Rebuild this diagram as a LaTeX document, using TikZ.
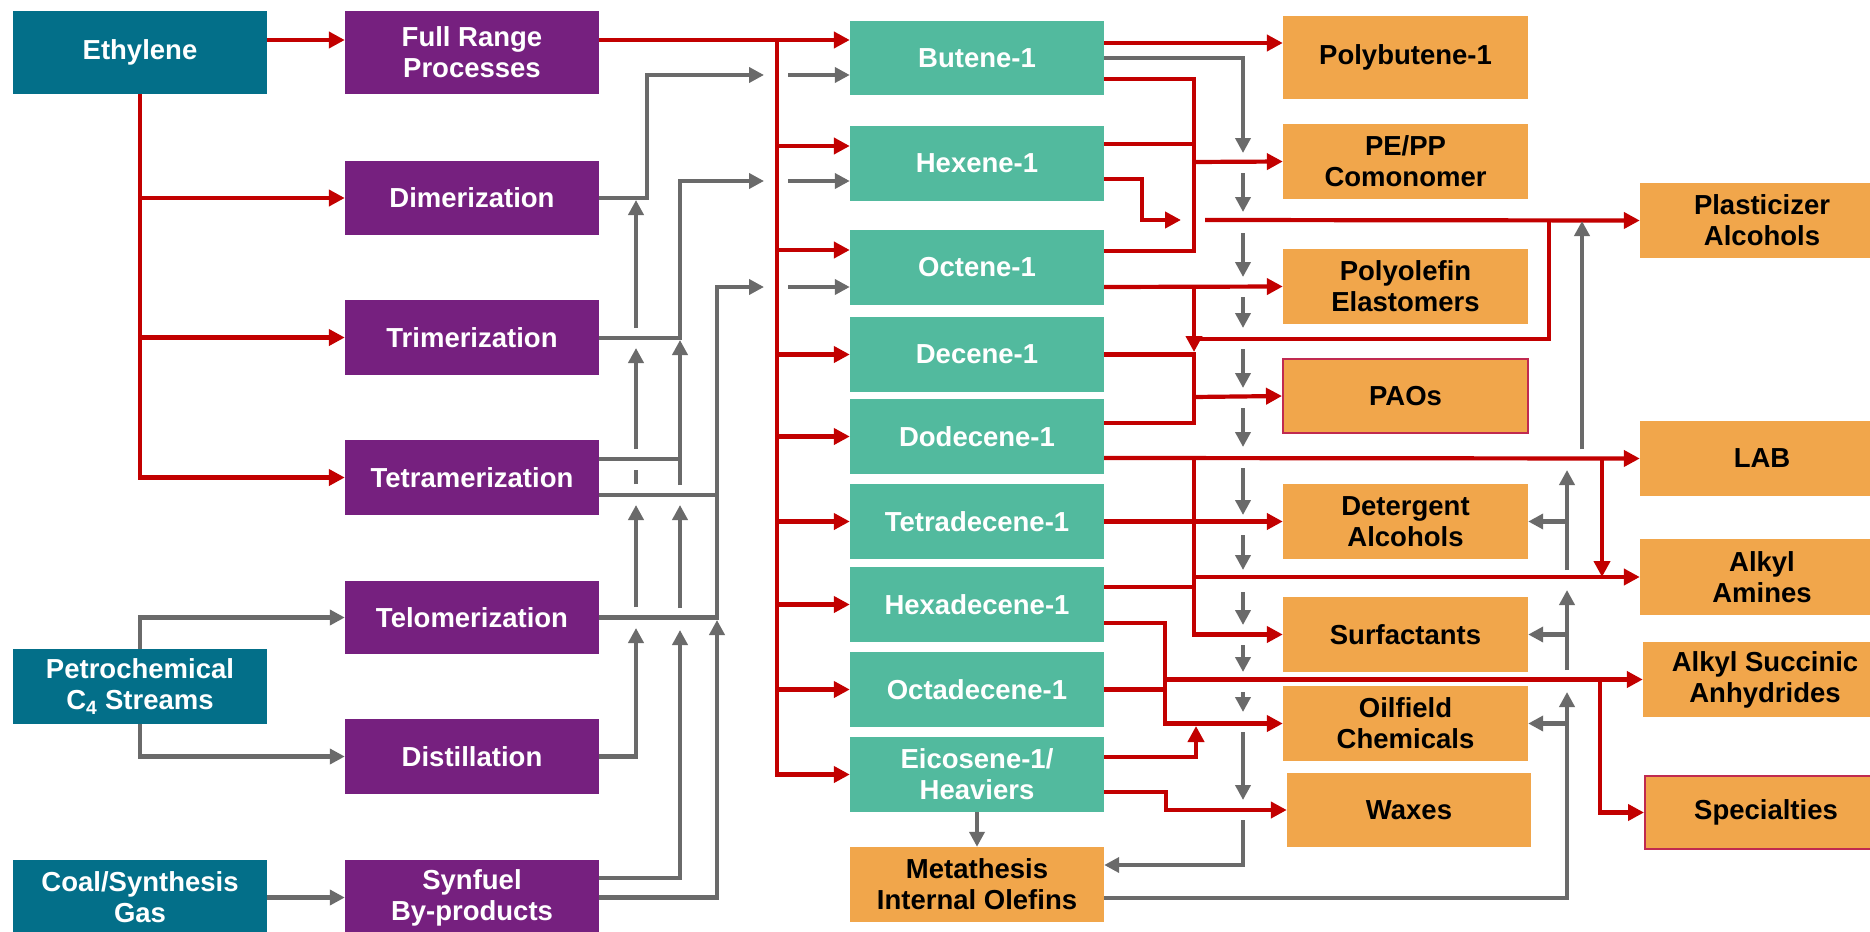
\documentclass[tikz,border=0pt]{standalone}
\usepackage{fontspec}
\setmainfont{Liberation Sans}
\usetikzlibrary{arrows.meta}
\definecolor{srcc}{HTML}{036F89}
\definecolor{procc}{HTML}{76207F}
\definecolor{olec}{HTML}{52BA9E}
\definecolor{prodc}{HTML}{F1A64B}
\definecolor{redc}{HTML}{C20000}
\definecolor{grayc}{HTML}{6A6A6A}
\definecolor{pinkc}{HTML}{C02A50}
\begin{document}
\begin{tikzpicture}[x=1pt,y=-1pt,
  box/.style={rectangle, inner sep=0pt, align=center, minimum height=75pt,
    font=\bfseries\fontsize{27.5}{31}\selectfont},
  srcbox/.style={box, fill=srcc, text=white, minimum width=254pt},
  procbox/.style={box, fill=procc, text=white, minimum width=254pt},
  olebox/.style={box, fill=olec, text=white, minimum width=254pt},
  prodbox/.style={box, fill=prodc, text=black, minimum width=245pt},
  farbox/.style={box, fill=prodc, text=black, minimum width=244pt},
  pinkedge/.style={draw=pinkc, line width=2pt},
  rl/.style={draw=redc, line width=4.2pt},
  ra/.style={rl, -{Triangle[length=16pt,width=16pt]}},
  gl/.style={draw=grayc, line width=4.2pt},
  ga/.style={gl, -{Triangle[length=15pt,width=15pt]}}]
\useasboundingbox[fill=white] (0,0) rectangle (1870,931);

% sources
\node[srcbox, minimum height=83pt] (eth) at (140,52.5) {\raisebox{-3pt}{Ethylene}};
\node[srcbox] (pc) at (140,686.5) {Petrochemical\\C\textsubscript{4} Streams};
\node[srcbox] (coal) at (140,897.5) {Coal/Synthesis\\Gas};

% processes
\node[procbox, minimum height=83pt] (fr) at (472,52.5) {Full Range\\Processes};
\node[procbox, minimum height=74pt] (dim) at (472,198) {Dimerization};
\node[procbox] (tri) at (472,337.5) {Trimerization};
\node[procbox] (tet) at (472,477.5) {Tetramerization};
\node[procbox, minimum height=73pt] (tel) at (472,617.5) {Telomerization};
\node[procbox] (dist) at (472,756.5) {Distillation};
\node[procbox] (syn) at (472,897.5) {Synfuel\\By-products};

% olefins
\node[olebox, minimum height=74pt] (but) at (977,58) {Butene-1};
\node[olebox] (hex) at (977,163.5) {Hexene-1};
\node[olebox] (oct) at (977,267.5) {Octene-1};
\node[olebox] (dec) at (977,354.5) {Decene-1};
\node[olebox] (dod) at (977,436.5) {Dodecene-1};
\node[olebox] (tetd) at (977,521.5) {Tetradecene-1};
\node[olebox] (hexd) at (977,604.5) {Hexadecene-1};
\node[olebox] (octd) at (977,689.5) {Octadecene-1};
\node[olebox] (eic) at (977,774.5) {Eicosene-1/\\Heaviers};
\node[box, fill=prodc, minimum width=254pt] (meta) at (977,884.5) {Metathesis\\Internal Olefins};

% products middle
\node[prodbox, minimum height=83pt] (pb) at (1405.5,57.5) {Polybutene-1};
\node[prodbox] (pepp) at (1405.5,161.5) {PE/PP\\Comonomer};
\node[prodbox] (poe) at (1405.5,286.5) {Polyolefin\\Elastomers};
\node[prodbox, pinkedge, minimum height=74pt] (pao) at (1405.5,396) {PAOs};
\node[prodbox] (det) at (1405.5,521.5) {Detergent\\Alcohols};
\node[prodbox] (surf) at (1405.5,634.5) {Surfactants};
\node[prodbox] (oil) at (1405.5,723.5) {Oilfield\\Chemicals};
\node[prodbox, minimum width=244pt, minimum height=74pt] (wax) at (1409,810) {Waxes};

% products right
\node[farbox] (plast) at (1762,220.5) {Plasticizer\\Alcohols};
\node[farbox] (lab) at (1762,458.5) {LAB};
\node[farbox, minimum height=76pt] (amin) at (1762,577) {Alkyl\\Amines};
\node[farbox] (asa) at (1765,679.5) {Alkyl Succinic\\Anhydrides};
\node[farbox, pinkedge, minimum width=242pt, minimum height=73pt] (spec) at (1766,812.5) {Specialties};

% ---- red: ethylene
\draw[ra] (eth.east|-0,40) -- (fr.west|-0,40);
\draw[ra] (eth.south) |- (tet.west);
\draw[ra] (eth.south|-dim.west) -- (dim.west);
\draw[ra] (eth.south|-tri.west) -- (tri.west);

% ---- red: full range trunk
\draw[ra] (fr.east|-0,40) -- (but.west|-0,40);
\coordinate (tk) at (777,40);
\draw[ra] (tk) |- (eic.west);
\foreach \n/\y in {hex/146,oct/250} \draw[ra] (tk|-0,\y) -- (\n.west|-0,\y);
\foreach \n in {dec,dod,tetd,hexd,octd} \draw[ra] (tk|-\n.west) -- (\n.west);

% ---- gray: left feeds
\draw[ga] (pc.north) |- (tel.west);
\draw[ga] (pc.south) |- (dist.west);
\draw[ga] (coal.east) -- (syn.west);

\draw[ga] (dim.east) -| (647,75) -- (764,75);
\draw[ga] (788,75) -- (but.west|-0,75);
\draw[ga] (tri.east|-0,338) -| (680,181) -- (764,181);
\draw[ga] (788,181) -- (hex.west|-0,181);
\draw[gl] (tet.east|-0,459) -- (680,459);
\draw[gl] (tet.east|-0,495) -- (717,495);
\draw[ga] (tel.east) -| (717,287) -- (764,287);
\draw[ga] (788,287) -- (oct.west|-0,287);
\draw[ga] (syn.east) -| (717,620);
\draw[ga] (syn.east|-0,878) -| (680,630);
\draw[ga] (680,608) -- (680,505);
\draw[ga] (680,485) -- (680,340);
\draw[ga] (dist.east) -| (636,628);
\draw[ga] (636,607) -- (636,505);
\draw[gl] (636,484) -- (636,470);
\draw[ga] (636,449) -- (636,348);
\draw[ga] (636,328) -- (636,200);

% ---- red: olefin outputs
\draw[ra] (but.east|-0,43) -- (pb.west|-0,43);
\draw[rl] (but.east|-0,79) -| (1194,251) -- (oct.east|-0,251);
\draw[rl] (hex.east|-0,144) -- (1194,144);
\draw[ra] (1194,162) -- (pepp.west);
\draw[ra] (hex.east|-0,179) -| (1142,220) -- (1181,220);
\draw[ra] (1205,220) -- (plast.west);
\draw[ra] (oct.east|-0,287) -- (poe.west);
\draw[ra] (1194,287) -- (1194,352);
\draw[rl] (1194,339) -| (1549,220);
\draw[rl] (dec.east) -- (1194,354.5) -- (1194,423) -- (dod.east|-0,423);
\draw[ra] (1194,397) -- (pao.west);
\draw[ra] (dod.east|-0,458) -- (lab.west);
\draw[ra] (1602,458) -- (1602,577);
\draw[ra] (1194,458) |- (surf.west);
\draw[ra] (1194,577) -- (amin.west);
\draw[ra] (tetd.east) -- (det.west);
\draw[rl] (hexd.east|-0,587) -- (1194,587);
\draw[ra] (hexd.east|-0,623) -| (1165,723.5) -- (oil.west);
\draw[rl] (octd.east) -- (1165,689.5);
\draw[ra] (1165,679.5) -- (asa.west);
\draw[ra] (1600,679.5) |- (spec.west);
\draw[ra] (eic.east|-0,757) -| (1196,726);
\draw[ra] (eic.east|-0,792) -| (1166,810) -- (wax.west);

% ---- gray: right recycle network
\draw[ga] (but.east|-0,58) -| (1243,153);
\foreach \a/\b in {173/212,233/277,297/328,349/388,408/447,468/515,535/570,592/625,645/672,692/712,732/800}
  \draw[ga] (1243,\a) -- (1243,\b);
\draw[ga] (1243,820) |- (meta.east|-0,865);
\draw[ga] (meta.east|-0,898) -| (1567,692);
\draw[ga] (1567,723.5) -- (oil.east);
\draw[ga] (1567,670) -- (1567,590);
\draw[ga] (1567,634.5) -- (surf.east);
\draw[ga] (1567,570) -- (1567,470);
\draw[ga] (1567,521.5) -- (det.east);
\draw[ga] (1582,449) -- (1582,221);
\draw[ga] (eic.south) -- (meta.north);
\end{tikzpicture}
\end{document}
